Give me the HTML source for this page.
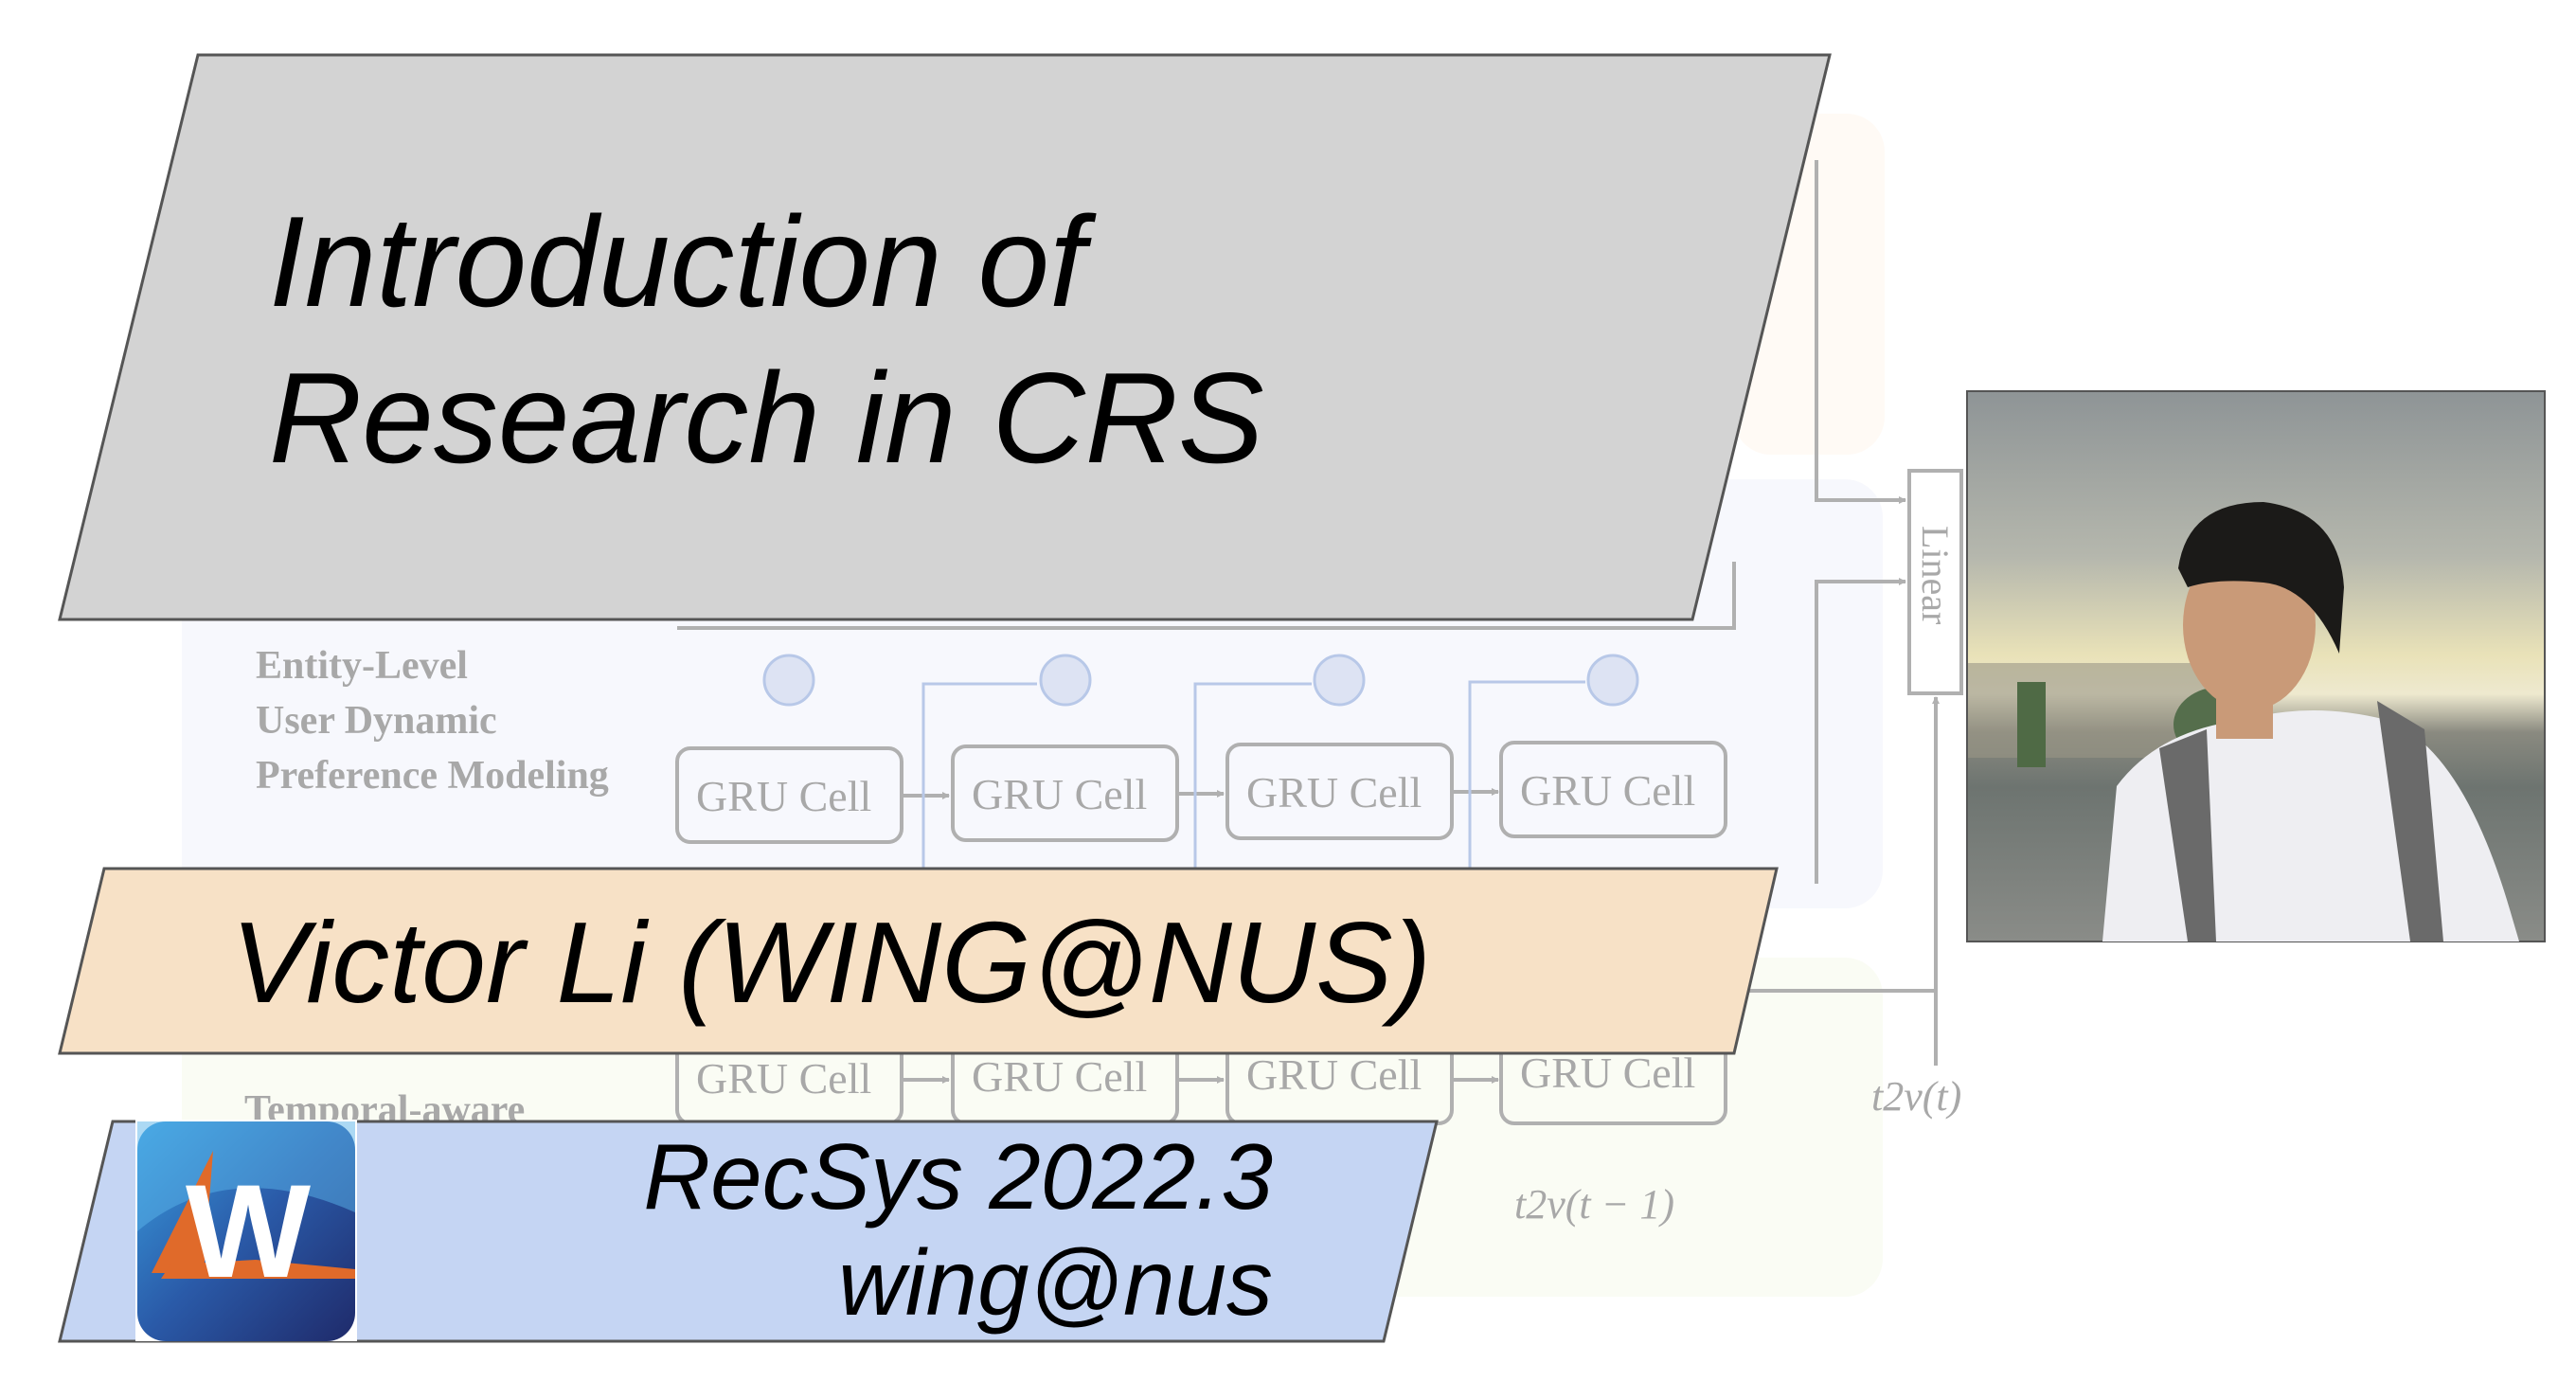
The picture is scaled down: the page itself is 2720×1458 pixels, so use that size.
<!DOCTYPE html>
<html><head><meta charset="utf-8"><style>
html,body{margin:0;padding:0;background:#fff;}
svg{display:block;}
</style></head><body>
<svg width="2720" height="1458" viewBox="0 0 2720 1458" xmlns="http://www.w3.org/2000/svg">
<defs>
<linearGradient id="sky" x1="0" y1="0" x2="0" y2="1">
<stop offset="0" stop-color="#8e9496"/><stop offset="0.3" stop-color="#b5b7ad"/><stop offset="0.48" stop-color="#e9e2b8"/><stop offset="0.55" stop-color="#eee9cf"/><stop offset="0.62" stop-color="#8a8a80"/><stop offset="0.72" stop-color="#6d7470"/><stop offset="1" stop-color="#8a8c88"/>
</linearGradient>
<linearGradient id="logo" x1="0" y1="0" x2="1" y2="1">
<stop offset="0" stop-color="#3aa0e0"/><stop offset="0.5" stop-color="#2a5aa8"/><stop offset="1" stop-color="#1f2a6a"/>
</linearGradient>
<marker id="ar" markerWidth="8" markerHeight="8" refX="7" refY="4" orient="auto" markerUnits="userSpaceOnUse"><path d="M0,0 L8,4 L0,8Z" fill="#b0b0b0"/></marker>
</defs>
<rect x="1830" y="120" width="160" height="360" rx="40" fill="#fffaf5"/>
<rect x="192" y="506" width="1796" height="453" rx="40" fill="#f7f8fd"/>
<rect x="192" y="1011" width="1796" height="358" rx="40" fill="#fafcf4"/>
<g stroke="#b0b0b0" stroke-width="4" fill="none">
<polyline points="1918,169 1918,528 2012,528" marker-end="url(#ar)"/>
<polyline points="1918,933 1918,614 2012,614" marker-end="url(#ar)"/>
<polyline points="715,663 1831,663 1831,593"/>
<polyline points="1831,1046 2044,1046"/>
<line x1="2044" y1="1125" x2="2044" y2="736" marker-end="url(#ar)"/>
<rect x="2016" y="497" width="55" height="235"/>
<rect x="715" y="790" width="237" height="99" rx="14"/>
<rect x="1006" y="788" width="237" height="99" rx="14"/>
<rect x="1296" y="786" width="237" height="99" rx="14"/>
<rect x="1585" y="784" width="237" height="99" rx="14"/>
<rect x="715" y="1100" width="237" height="86" rx="14"/>
<rect x="1006" y="1100" width="237" height="86" rx="14"/>
<rect x="1296" y="1100" width="237" height="86" rx="14"/>
<rect x="1585" y="1100" width="237" height="86" rx="14"/>
<line x1="952" y1="840" x2="1002" y2="840" marker-end="url(#ar)"/><line x1="1243" y1="838" x2="1292" y2="838" marker-end="url(#ar)"/><line x1="1533" y1="836" x2="1582" y2="836" marker-end="url(#ar)"/>
<line x1="952" y1="1140" x2="1002" y2="1140" marker-end="url(#ar)"/><line x1="1243" y1="1140" x2="1292" y2="1140" marker-end="url(#ar)"/><line x1="1533" y1="1140" x2="1582" y2="1140" marker-end="url(#ar)"/>
</g>
<g stroke="#b8c8e8" stroke-width="3" fill="#dde3f3">
<circle cx="833" cy="718" r="26"/><circle cx="1125" cy="718" r="26"/><circle cx="1414" cy="718" r="26"/><circle cx="1703" cy="718" r="26"/>
<polyline points="975,950 975,722 1095,722" fill="none"/><polyline points="1262,950 1262,722 1385,722" fill="none"/><polyline points="1552,950 1552,720 1674,720" fill="none"/>
</g>
<g font-family="Liberation Serif, serif" fill="#a8a8a8">
<text x="270" y="716" font-size="42" font-weight="bold">Entity-Level</text>
<text x="270" y="774" font-size="42" font-weight="bold">User Dynamic</text>
<text x="270" y="832" font-size="42" font-weight="bold">Preference Modeling</text>
<text x="258" y="1185" font-size="42" font-weight="bold">Temporal-aware</text>
<g font-size="46"><text x="735" y="856">GRU Cell</text><text x="1026" y="854">GRU Cell</text><text x="1316" y="852">GRU Cell</text><text x="1605" y="850">GRU Cell</text>
<text x="735" y="1154">GRU Cell</text><text x="1026" y="1152">GRU Cell</text><text x="1316" y="1150">GRU Cell</text><text x="1605" y="1148">GRU Cell</text></g>
<text x="1976" y="1172" font-size="44" font-style="italic">t2v(t)</text>
<text x="1599" y="1286" font-size="44" font-style="italic">t2v(t − 1)</text>
<text x="2030" y="555" font-size="40" transform="rotate(90 2030 555)">Linear</text>
</g>
<polygon points="209,58 1932,58 1787,654 63,654" fill="#d3d3d3" stroke="#555" stroke-width="3"/>
<g font-family="Liberation Sans, Arial, sans-serif" font-style="italic" fill="#000">
<text x="284" y="323" font-size="136">Introduction of</text>
<text x="284" y="488" font-size="136">Research in CRS</text>
</g>
<polygon points="110,917 1876,917 1831,1112 63,1112" fill="#f7e1c6" stroke="#555" stroke-width="3"/>
<text x="244" y="1058" font-family="Liberation Sans, Arial, sans-serif" font-style="italic" font-size="122">Victor Li (WING@NUS)</text>
<polygon points="119,1184 1517,1184 1461,1416 63,1416" fill="#c5d5f3" stroke="#555" stroke-width="3"/>
<g font-family="Liberation Sans, Arial, sans-serif" font-style="italic" font-size="98" text-anchor="end">
<text x="1344" y="1276">RecSys 2022.3</text>
<text x="1344" y="1388">wing@nus</text>
</g>
<rect x="143" y="1182" width="234" height="234" fill="#fff"/>
<rect x="145" y="1184" width="230" height="232" rx="30" fill="url(#logo)"/>
<path d="M145,1300 Q240,1220 375,1280 L375,1184 L145,1184Z" fill="#5ab4ea" opacity="0.5"/>
<polygon points="160,1344 225,1215 215,1344" fill="#e06a2a"/>
<polygon points="170,1350 375,1350 375,1340 270,1330 180,1335" fill="#e06a2a"/>
<text x="262" y="1348" font-family="Liberation Sans, Arial, sans-serif" font-weight="bold" font-size="140" fill="#fff" text-anchor="middle">W</text>
<rect x="2077" y="413" width="610" height="581" fill="url(#sky)" stroke="#555" stroke-width="2"/>
<rect x="2078" y="700" width="250" height="100" fill="#9a9686" opacity="0.6"/>
<rect x="2130" y="720" width="30" height="90" fill="#4f6a45"/>
<ellipse cx="2345" cy="765" rx="50" ry="40" fill="#556e4c"/>
<path d="M2220,994 L2235,830 Q2280,770 2370,760 Q2440,740 2520,760 Q2600,790 2650,960 L2660,994Z" fill="#eeeef2"/>
<path d="M2280,790 L2330,770 L2340,994 L2310,994Z" fill="#6a6a6a"/>
<path d="M2510,740 L2560,770 L2580,994 L2545,994Z" fill="#6a6a6a"/>
<ellipse cx="2375" cy="660" rx="70" ry="90" fill="#c99a78"/>
<path d="M2300,600 Q2310,530 2390,530 Q2470,540 2475,620 L2470,690 Q2440,620 2390,615 Q2340,610 2310,620Z" fill="#1b1a18"/>
<rect x="2340" y="700" width="60" height="80" fill="#c99a78"/>
</svg>
</body></html>
